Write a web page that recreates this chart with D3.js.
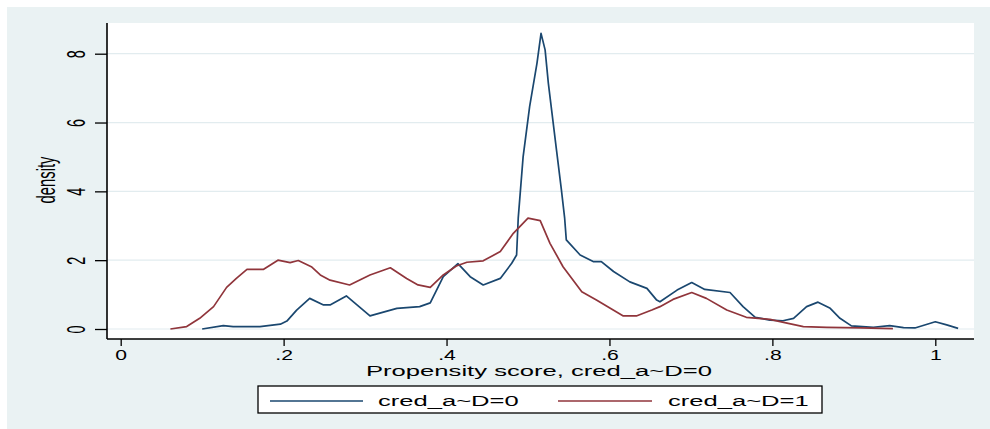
<!DOCTYPE html>
<html>
<head>
<meta charset="utf-8">
<script src="https://cdn.jsdelivr.net/npm/d3@7"></script>
<style>
  html, body { margin: 0; padding: 0; background: #ffffff; }
  svg { display: block; }
  text { font-family: "Liberation Sans", Arial, sans-serif; fill: #000; }
</style>
</head>
<body>
<svg id="chart" width="990" height="429"></svg>
<script>
// Kernel density of the propensity score, untreated group (D=0)
const d0Score = [0.100, 0.126, 0.138, 0.171, 0.196, 0.204, 0.216, 0.232, 0.249, 0.257,
  0.277, 0.306, 0.339, 0.367, 0.380, 0.396, 0.414, 0.429, 0.445, 0.466,
  0.480, 0.486, 0.488, 0.494, 0.502, 0.511, 0.516, 0.521, 0.525, 0.529,
  0.535, 0.541, 0.545, 0.547, 0.564, 0.580, 0.590, 0.605, 0.625, 0.646,
  0.658, 0.662, 0.683, 0.701, 0.717, 0.748, 0.764, 0.779, 0.797, 0.813,
  0.826, 0.842, 0.856, 0.871, 0.883, 0.897, 0.924, 0.944, 0.961, 0.975,
  1.000, 1.014, 1.028];
const d0Density = [0.00, 0.10, 0.07, 0.07, 0.14, 0.23, 0.55, 0.89, 0.70, 0.70,
  0.96, 0.38, 0.60, 0.65, 0.76, 1.52, 1.90, 1.52, 1.28, 1.47,
  1.91, 2.15, 3.22, 5.00, 6.46, 7.72, 8.59, 8.11, 7.14, 6.36,
  5.20, 4.04, 3.22, 2.59, 2.15, 1.96, 1.96, 1.67, 1.37, 1.18,
  0.84, 0.79, 1.13, 1.35, 1.15, 1.06, 0.65, 0.34, 0.26, 0.24,
  0.31, 0.65, 0.78, 0.60, 0.31, 0.09, 0.05, 0.10, 0.04, 0.03,
  0.21, 0.12, 0.02];

// Kernel density of the propensity score, treated group (D=1)
const d1Score = [0.061, 0.081, 0.097, 0.114, 0.130, 0.142, 0.155, 0.175, 0.193, 0.208,
  0.218, 0.234, 0.245, 0.257, 0.281, 0.306, 0.331, 0.351, 0.365, 0.380,
  0.396, 0.412, 0.425, 0.445, 0.466, 0.482, 0.500, 0.515, 0.527, 0.543,
  0.566, 0.584, 0.601, 0.617, 0.633, 0.652, 0.662, 0.678, 0.701, 0.719,
  0.744, 0.768, 0.797, 0.818, 0.838, 0.867, 0.908, 0.948];
const d1Density = [0.00, 0.07, 0.31, 0.65, 1.21, 1.47, 1.73, 1.73, 2.00, 1.93,
  1.99, 1.81, 1.57, 1.42, 1.28, 1.57, 1.78, 1.47, 1.28, 1.21,
  1.57, 1.83, 1.94, 1.98, 2.25, 2.78, 3.22, 3.15, 2.49, 1.81,
  1.08, 0.84, 0.60, 0.38, 0.38, 0.55, 0.65, 0.86, 1.06, 0.89,
  0.55, 0.34, 0.28, 0.17, 0.07, 0.05, 0.03, 0.01];

const xTicks = [0, 0.2, 0.4, 0.6, 0.8, 1];
const xTickLabels = ["0", ".2", ".4", ".6", ".8", "1"];
const yTicks = [0, 2, 4, 6, 8];
const yTickLabels = ["0", "2", "4", "6", "8"];
const seriesNames = ["cred_a~D=0", "cred_a~D=1"];
const seriesColors = ["#1a476f", "#90353b"];
const xTitle = "Propensity score, cred_a~D=0";
const yTitle = "density";

const svg = d3.select("#chart");

// Graph region and plot region
const plot = { left: 107, right: 974, top: 23, bottom: 339 };
svg.append("rect").attr("x", 7).attr("y", 7).attr("width", 983).attr("height", 422)
  .attr("fill", "#eaf2f3");
svg.append("rect").attr("x", plot.left).attr("y", plot.top)
  .attr("width", plot.right - plot.left).attr("height", plot.bottom - plot.top)
  .attr("fill", "#ffffff");

const x = d3.scaleLinear().domain([0, 1]).range([120.7, 935.3]);
const y = d3.scaleLinear().domain([0, 8]).range([329, 53.7]);

// Horizontal grid lines
svg.append("g").selectAll("line").data(yTicks).join("line")
  .attr("x1", plot.left).attr("x2", plot.right)
  .attr("y1", d => y(d)).attr("y2", d => y(d))
  .attr("stroke", "#e2ecef").attr("stroke-width", 1.2);

// Density curves
const series = [
  d3.zip(d0Score, d0Density),
  d3.zip(d1Score, d1Density)
];
const line = d3.line().x(d => x(d[0])).y(d => y(d[1]));
svg.append("g").selectAll("path").data(series).join("path")
  .attr("d", line)
  .attr("fill", "none")
  .attr("stroke", (d, i) => seriesColors[i])
  .attr("stroke-width", 1.7)
  .attr("stroke-linejoin", "round");

// Y axis
const yAxis = svg.append("g").attr("transform", `translate(${plot.left},0)`)
  .call(d3.axisLeft(y).tickValues(yTicks).tickSize(12)
    .tickFormat((d, i) => yTickLabels[i]));
yAxis.select(".domain").remove();
yAxis.selectAll(".tick line").attr("stroke", "#000").attr("stroke-width", 1.3);
yAxis.selectAll(".tick text")
  .attr("x", 0).attr("y", 0).attr("dy", 0)
  .attr("text-anchor", "middle")
  .attr("font-size", 14.4)
  .attr("transform", "translate(-22,0) scale(1.85,1) rotate(-90)");
svg.append("line")
  .attr("x1", plot.left).attr("x2", plot.left)
  .attr("y1", plot.top).attr("y2", plot.bottom)
  .attr("stroke", "#000").attr("stroke-width", 1.6);

// X axis
const xAxis = svg.append("g").attr("transform", `translate(0,${plot.bottom})`)
  .call(d3.axisBottom(x).tickValues(xTicks).tickSize(7)
    .tickFormat((d, i) => xTickLabels[i]));
xAxis.select(".domain").remove();
xAxis.selectAll(".tick line").attr("stroke", "#000").attr("stroke-width", 1.3);
xAxis.selectAll(".tick text")
  .attr("y", 21.5).attr("dy", 0)
  .attr("text-anchor", "middle")
  .attr("font-size", 14.6)
  .attr("transform", "scale(1.45,1)");
svg.append("line")
  .attr("x1", plot.left).attr("x2", plot.right)
  .attr("y1", plot.bottom).attr("y2", plot.bottom)
  .attr("stroke", "#000").attr("stroke-width", 1.6);

// Axis titles
svg.append("text")
  .attr("transform", "translate(539,376) scale(1.72,1)")
  .attr("text-anchor", "middle")
  .attr("font-size", 14.9)
  .text(xTitle);
svg.append("text")
  .attr("transform", "translate(54.5,180) scale(1.8,1) rotate(-90)")
  .attr("text-anchor", "middle")
  .attr("font-size", 14.8)
  .text(yTitle);

// Legend
const legend = svg.append("g");
legend.append("rect").attr("x", 258).attr("y", 386).attr("width", 564).attr("height", 27)
  .attr("fill", "#ffffff").attr("stroke", "#000").attr("stroke-width", 1.3);
const legendItems = [
  { x1: 270, x2: 363, tx: 378 },
  { x1: 558, x2: 652, tx: 668 }
];
legend.selectAll("line.key").data(legendItems).join("line")
  .attr("class", "key")
  .attr("x1", d => d.x1).attr("x2", d => d.x2)
  .attr("y1", 401).attr("y2", 401)
  .attr("stroke", (d, i) => seriesColors[i]).attr("stroke-width", 1.5);
legend.selectAll("text.lab").data(legendItems).join("text")
  .attr("class", "lab")
  .attr("transform", d => `translate(${d.tx},406) scale(1.66,1)`)
  .attr("font-size", 15.4)
  .text((d, i) => seriesNames[i]);
</script>
</body>
</html>
